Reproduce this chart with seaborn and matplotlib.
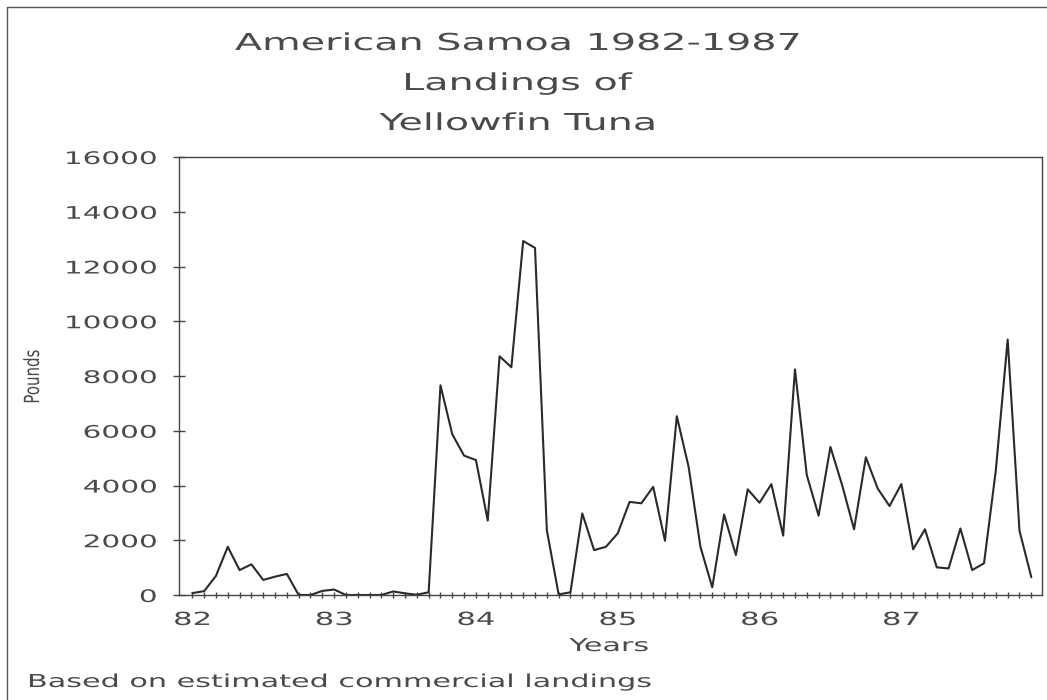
import numpy as np
import pandas as pd
import matplotlib
matplotlib.use("Agg")
import matplotlib.pyplot as plt
import seaborn as sns
from matplotlib.patheffects import AbstractPathEffect
from matplotlib.transforms import Affine2D
from matplotlib.lines import Line2D

# ---------------- data (monthly landings, pounds) ----------------
year_ticks = [82, 83, 84, 85, 86, 87]
year_labels = ["82", "83", "84", "85", "86", "87"]
y_ticks = [0, 2000, 4000, 6000, 8000, 10000, 12000, 14000, 16000]
pounds_1982 = [70, 140, 700, 1760, 910, 1120, 550, 670, 770, 0, 0, 150]
pounds_1983 = [200, 0, 0, 0, 0, 130, 60, 10, 100, 7660, 5870, 5090]
pounds_1984 = [4930, 2720, 8720, 8320, 12930, 12680, 2370, 20, 100, 2980, 1640, 1760]
pounds_1985 = [2250, 3400, 3350, 3950, 1980, 6530, 4680, 1760, 280, 2940, 1460, 3860]
pounds_1986 = [3370, 4050, 2170, 8240, 4380, 2900, 5410, 4000, 2400, 5030, 3890, 3250]
pounds_1987 = [4050, 1670, 2400, 1010, 970, 2430, 910, 1160, 4560, 9330, 2350, 650]

values = pounds_1982 + pounds_1983 + pounds_1984 + pounds_1985 + pounds_1986 + pounds_1987
month_idx = np.arange(len(values))
df = pd.DataFrame({"year": year_ticks[0] + month_idx / 12.0, "pounds": values})


# horizontal stretch effect to imitate the wide plotter font
class HStretch(AbstractPathEffect):
    def __init__(self, sx, anchor="center"):
        super().__init__()
        self.sx = sx
        self.anchor = anchor

    def draw_path(self, renderer, gc, tpath, affine, rgbFace=None):
        ext = tpath.get_extents()
        if self.anchor == "center":
            ref = (ext.x0 + ext.x1) / 2.0
        elif self.anchor == "right":
            ref = ext.x1
        else:
            ref = 0.0
        pre = Affine2D().translate(-ref, 0).scale(self.sx, 1.0).translate(ref, 0)
        renderer.draw_path(gc, tpath, pre + affine, rgbFace)


sns.set_style("white")
plt.rcParams["font.family"] = ["DejaVu Sans"]

TXT = "#4a4a4a"
SX = 1.7
W, H = 1047, 700

fig = plt.figure(figsize=(W / 100, H / 100), dpi=100)
fig.patch.set_facecolor("white")

ax = fig.add_axes([179 / W, 1 - 595 / H, (1041.7 - 179) / W, (595 - 157) / H])
sns.lineplot(data=df, x="year", y="pounds", ax=ax, color="#2a2a2a", linewidth=1.5)

ax.set_xlim(81.906, 87.99)
ax.set_ylim(0, 16000)
ax.set_xticks(year_ticks)
ax.set_xticklabels(year_labels)
ax.set_xticks(year_ticks[0] + month_idx / 12.0, minor=True)
ax.set_yticks(y_ticks)
ax.set_yticklabels([str(v) for v in y_ticks])

for s in ax.spines.values():
    s.set_visible(True)
    s.set_color("#444444")
    s.set_linewidth(1.0)

ax.tick_params(axis="x", which="both", bottom=True, top=False, direction="inout",
               length=5, width=1.0, color="#444444", labelcolor=TXT, labelsize=13, pad=9)
ax.tick_params(axis="y", which="major", left=True, right=False, direction="inout",
               length=8, width=1.0, color="#444444", labelcolor=TXT, labelsize=12.5, pad=12)

for lbl in ax.get_xticklabels():
    lbl.set_path_effects([HStretch(SX, "center")])
for lbl in ax.get_yticklabels():
    lbl.set_path_effects([HStretch(SX, "right")])

ax.set_xlabel("Years", fontsize=12.8, color=TXT)
ax.xaxis.set_label_coords((609 - 179) / 862.7, -0.096)
ax.xaxis.label.set_path_effects([HStretch(SX, "center")])

ax.set_ylabel("Pounds", fontsize=15, color=TXT)
ax.yaxis.set_label_coords((43 - 179) / 862.7, 0.498)
ax.yaxis.label.set_path_effects([HStretch(0.72, "center")])

# title (three centred lines)
title_lines = ["American Samoa 1982-1987", "Landings of", "Yellowfin Tuna"]
for line, base in zip(title_lines, [50, 90, 130]):
    t = fig.text(518 / W, 1 - base / H, line, ha="center", va="baseline",
                 fontsize=16.8, color=TXT)
    t.set_path_effects([HStretch(SX, "center")])

note = fig.text(27 / W, 1 - 687 / H, "Based on estimated commercial landings",
                ha="left", va="baseline", fontsize=12.8, color=TXT)
note.set_path_effects([HStretch(SX, "left")])

# outer frame
fig.add_artist(Line2D([7 / W, 7 / W], [0, 1 - 7 / H], transform=fig.transFigure,
                      color="#555555", linewidth=1.0))
fig.add_artist(Line2D([7 / W, 1], [1 - 7 / H, 1 - 7 / H], transform=fig.transFigure,
                      color="#555555", linewidth=1.0))

fig.savefig("out.png", dpi=100)
